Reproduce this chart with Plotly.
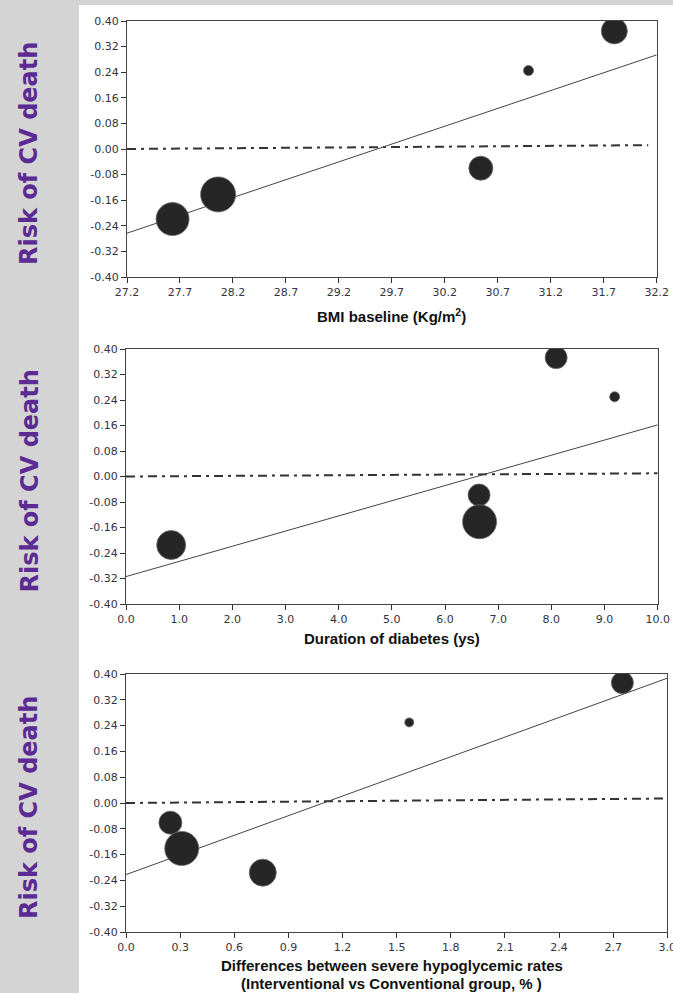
import plotly.graph_objects as go

W, H = 673, 993

# ---------------- data ----------------
y_tick_vals = [0.40, 0.32, 0.24, 0.16, 0.08, 0.00, -0.08, -0.16, -0.24, -0.32, -0.40]
y_tick_text = ["0.40", "0.32", "0.24", "0.16", "0.08", "0.00", "-0.08", "-0.16", "-0.24", "-0.32", "-0.40"]

# Panel 1: BMI baseline
bmi_x = [27.63, 28.06, 30.54, 30.99, 31.80]
bmi_y = [-0.219, -0.142, -0.060, 0.245, 0.369]
bmi_size = [33, 35, 24, 10, 26]
bmi_ticks = [27.2, 27.7, 28.2, 28.7, 29.2, 29.7, 30.2, 30.7, 31.2, 31.7, 32.2]
bmi_fit_x = [27.2, 32.2]
bmi_fit_y = [-0.263, 0.294]
bmi_ref_x = [27.2, 32.12]
bmi_ref_y = [0.000, 0.012]

# Panel 2: duration of diabetes
dur_x = [0.85, 6.64, 6.65, 8.09, 9.19]
dur_y = [-0.215, -0.058, -0.142, 0.373, 0.250]
dur_size = [29, 22, 34, 22, 10]
dur_ticks = [0.0, 1.0, 2.0, 3.0, 4.0, 5.0, 6.0, 7.0, 8.0, 9.0, 10.0]
dur_fit_x = [0.0, 10.0]
dur_fit_y = [-0.314, 0.162]
dur_ref_x = [0.0, 10.0]
dur_ref_y = [0.000, 0.010]

# Panel 3: differences in severe hypoglycemic rates
hyp_x = [0.246, 0.309, 0.758, 1.570, 2.751]
hyp_y = [-0.061, -0.141, -0.216, 0.250, 0.373]
hyp_size = [23, 34, 27, 9, 22]
hyp_ticks = [0.0, 0.3, 0.6, 0.9, 1.2, 1.5, 1.8, 2.1, 2.4, 2.7, 3.0]
hyp_fit_x = [0.0, 3.0]
hyp_fit_y = [-0.222, 0.387]
hyp_ref_x = [0.0, 3.0]
hyp_ref_y = [0.000, 0.014]

y_label = "Risk of CV death"
x_titles = ["BMI baseline (Kg/m<sup>2</sup>)", "Duration of diabetes (ys)",
            "Differences between severe hypoglycemic rates",
            "(Interventional vs Conventional group, % )"]

# ---------------- layout helpers ----------------
def px_x(p):
    return p / W

def px_y(p):
    return 1 - p / H

panels = [
    dict(x=bmi_x, y=bmi_y, s=bmi_size, ticks=bmi_ticks, fx=bmi_fit_x, fy=bmi_fit_y,
         rx=bmi_ref_x, ry=bmi_ref_y, dom_x=(127, 656.7), dom_y=(21, 277), fmt="%.1f"),
    dict(x=dur_x, y=dur_y, s=dur_size, ticks=dur_ticks, fx=dur_fit_x, fy=dur_fit_y,
         rx=dur_ref_x, ry=dur_ref_y, dom_x=(126, 657.7), dom_y=(349, 604), fmt="%.1f"),
    dict(x=hyp_x, y=hyp_y, s=hyp_size, ticks=hyp_ticks, fx=hyp_fit_x, fy=hyp_fit_y,
         rx=hyp_ref_x, ry=hyp_ref_y, dom_x=(126, 667.3), dom_y=(674, 932), fmt="%.1f"),
]

fig = go.Figure()
layout = dict(
    width=W, height=H,
    margin=dict(l=0, r=0, t=0, b=0, autoexpand=False),
    paper_bgcolor="#d4d4d4",
    plot_bgcolor="#ffffff",
    showlegend=False,
    shapes=[dict(type="rect", xref="paper", yref="paper",
                 x0=px_x(79), x1=1.0, y0=0.0, y1=px_y(5),
                 fillcolor="#ffffff", line=dict(width=0), layer="below")],
    annotations=[],
)

tick_font = dict(family="DejaVu Sans", size=11, color="#333340")

for i, p in enumerate(panels, start=1):
    xa = "x" if i == 1 else f"x{i}"
    ya = "y" if i == 1 else f"y{i}"
    # reference (null-effect) line
    fig.add_trace(go.Scatter(x=p["rx"], y=p["ry"], mode="lines", xaxis=xa, yaxis=ya,
                             line=dict(color="#333333", width=2, dash="9px,5px,3px,5px"),
                             hoverinfo="skip"))
    # regression line
    fig.add_trace(go.Scatter(x=p["fx"], y=p["fy"], mode="lines", xaxis=xa, yaxis=ya,
                             line=dict(color="#444444", width=1), hoverinfo="skip"))
    # bubbles
    fig.add_trace(go.Scatter(x=p["x"], y=p["y"], mode="markers", xaxis=xa, yaxis=ya,
                             marker=dict(size=p["s"], color="#262626", opacity=1,
                                         line=dict(color="#666666", width=0.8))))
    xr = [p["ticks"][0], p["ticks"][-1]]
    layout["xaxis" if i == 1 else f"xaxis{i}"] = dict(
        domain=[px_x(p["dom_x"][0]), px_x(p["dom_x"][1])],
        anchor=ya, range=xr, tickvals=p["ticks"],
        ticktext=[p["fmt"] % t for t in p["ticks"]],
        ticks="outside", ticklen=5, tickcolor="#333333", tickwidth=1,
        showline=True, linecolor="#444444", linewidth=1, mirror=True,
        showgrid=False, zeroline=False, tickfont=tick_font, automargin=False,
        ticklabeloverflow="allow",
    )
    layout["yaxis" if i == 1 else f"yaxis{i}"] = dict(
        domain=[px_y(p["dom_y"][1]), px_y(p["dom_y"][0])],
        anchor=xa, range=[-0.40, 0.40], tickvals=y_tick_vals, ticktext=y_tick_text,
        ticks="outside", ticklen=5, tickcolor="#333333", tickwidth=1,
        showline=True, linecolor="#444444", linewidth=1, mirror=True,
        showgrid=False, zeroline=False, tickfont=tick_font, automargin=False,
        ticklabeloverflow="allow",
    )
    # purple rotated label
    cy = (p["dom_y"][0] + p["dom_y"][1]) / 2 + 5
    layout["annotations"].append(dict(
        text=f"<b>{y_label}</b>", xref="paper", yref="paper", x=px_x(29), y=px_y(cy),
        xanchor="center", yanchor="middle", textangle=-90, showarrow=False,
        font=dict(family="DejaVu Sans", size=24, color="#5b2a92")))

title_font = dict(family="Liberation Sans", size=15, color="#111111")
for txt, yy in zip(x_titles, [315, 638, 965, 983]):
    layout["annotations"].append(dict(
        text=f"<b>{txt}</b>", xref="paper", yref="paper", x=px_x(391.5), y=px_y(yy),
        xanchor="center", yanchor="middle", showarrow=False, font=title_font))

fig.update_layout(**layout)
fig.write_html("out.html", config={"displayModeBar": False},
               post_script="document.body.style.margin='0';document.body.style.overflow='hidden';")
